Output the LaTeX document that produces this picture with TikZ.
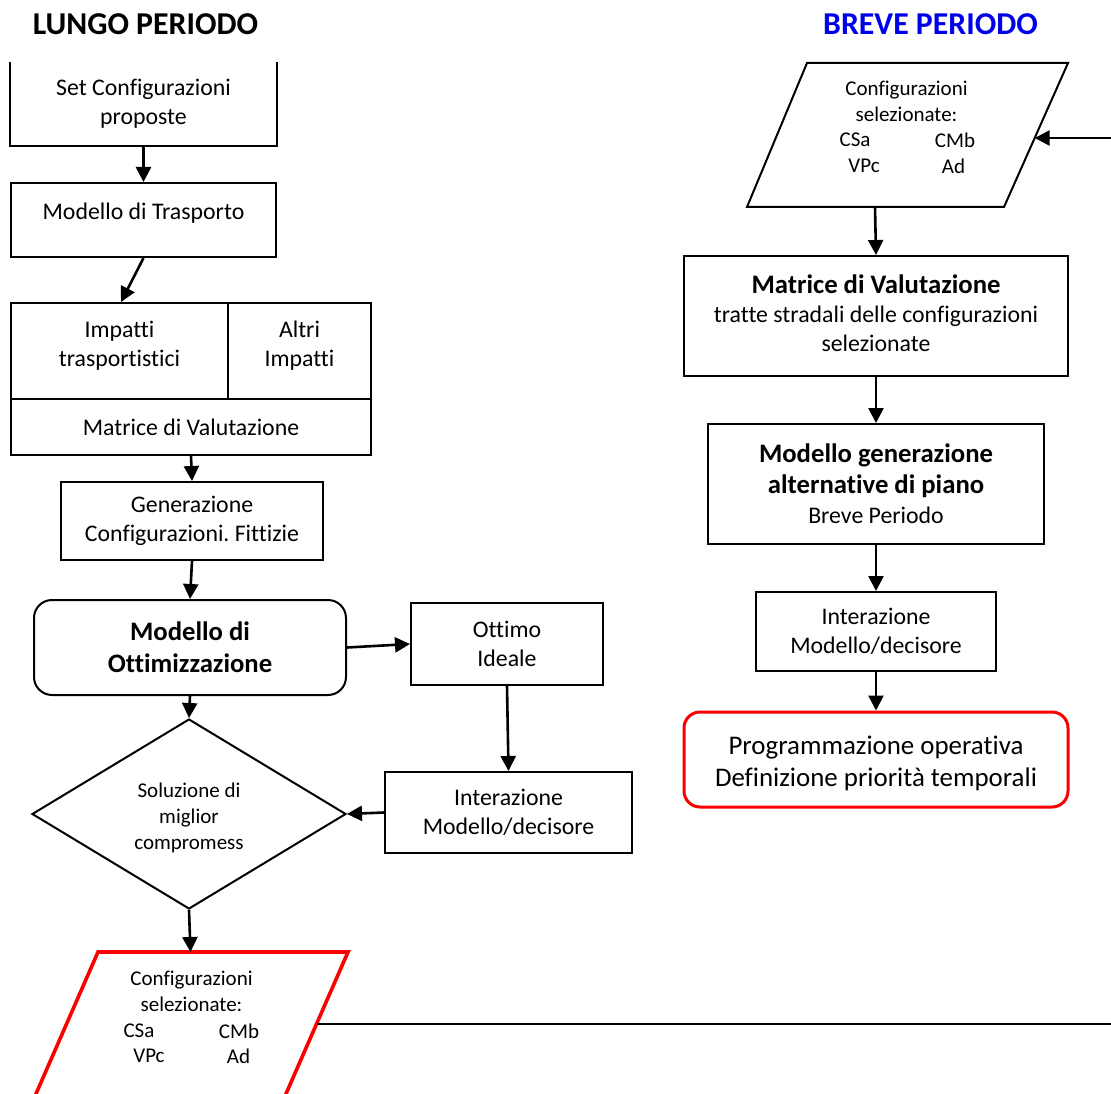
\documentclass[tikz,border=0pt]{standalone}
\usepackage{fontspec}
\setmainfont{Carlito}[Ligatures=CommonOff]
\usetikzlibrary{arrows.meta,shapes.geometric,calc}
\frenchspacing
\newcommand\fReg{\fontsize{23.8}{29}\selectfont}
\newcommand\fSm{\fontsize{21}{25.8}\selectfont}
\newcommand\fBig{\fontsize{26.7}{32}\selectfont\bfseries}
\newcommand\fProg{\fontsize{26.9}{32}\selectfont}
\newcommand\fTit{\fontsize{31.8}{36}\selectfont\bfseries}
\definecolor{tblue}{RGB}{0,0,235}
\definecolor{tred}{RGB}{250,0,0}
\begin{document}
\begin{tikzpicture}[x=1pt,y=-1pt,
  box/.style={draw, line width=2pt, rectangle, inner sep=0pt, align=center, font=\fReg},
  lbl/.style={inner sep=0pt, align=center, font=\fReg},
  slbl/.style={inner sep=0pt, align=center, font=\fSm},
  arr/.style={line width=2.6pt, -{Triangle[length=15pt,width=15pt]}},
  plain/.style={line width=2.6pt}]
\useasboundingbox (0,0) rectangle (1111,1094);
\clip (0,0) rectangle (1111,1094);
\fill[white] (0,0) rectangle (1111,1094);

% titles
\node[font=\fTit] (tl) at (145.5,24) {LUNGO PERIODO};
\node[font=\fTit, text=tblue] (tr) at (930.5,24) {BREVE PERIODO};

% ---------- left column ----------
\node[box, draw=none, minimum width=265pt, minimum height=82pt] (setc) at (143.5,104) {Set Configurazioni\\proposte};
\draw[line width=2pt] (setc.north west) -- (setc.south west) -- (setc.south east) -- (setc.north east);

\node[box, minimum width=265pt, minimum height=74pt] (trasp) at (143.5,220) {};
\node[lbl] (traspT) at (143.5,213) {Modello di Trasporto};

\node[box, minimum width=217pt, minimum height=96pt] (impT) at (119.5,351) {};
\node[lbl] (impTT) at (119.5,346) {Impatti\\trasportistici};
\node[box, minimum width=143pt, minimum height=96pt] (altri) at (299.5,351) {};
\node[lbl] (altriT) at (299.5,346) {Altri\\Impatti};
\node[box, minimum width=360pt, minimum height=56pt] (matL) at (191,427) {Matrice di Valutazione};

\node[box, minimum width=262pt, minimum height=78pt] (gen) at (192,521) {Generazione\\Configurazioni. Fittizie};

\node[box, rounded corners=18pt, minimum width=312pt, minimum height=95pt, font=\fBig] (opt) at (190,647.5) {Modello di\\Ottimizzazione};

\node[box, minimum width=192pt, minimum height=82pt] (ott) at (507,644) {Ottimo\\Ideale};

\node[box, minimum width=247pt, minimum height=81pt] (interL) at (508.5,812.5) {Interazione\\Modello/decisore};

\node[draw, line width=2pt, shape=diamond, shape aspect=1.65, inner sep=0pt,
      minimum width=314pt, minimum height=190pt, font=\fSm] (sol) at (189,814) {};
\node[slbl] (solT) at (189,818) {Soluzione di\\miglior\\compromess};

% red parallelogram (bottom left, cut by the page)
\draw[line width=3.6pt, draw=tred] (98,952) -- (348,952) -- (283.3,1100) -- (33.3,1100) -- cycle;
\coordinate (selLtop) at (190.5,952);
\coordinate (selLe) at (316.5,1024);
\node[slbl] (selLT) at (191.5,991) {Configurazioni\\selezionate:};
\node[slbl] (selL1) at (139,1031) {CSa};
\node[slbl] (selL2) at (239,1031) {CMb};
\node[slbl] (selL3) at (149,1056) {VPc};
\node[slbl] (selL4) at (238.5,1056) {Ad};

% ---------- right column ----------
\draw[line width=2pt] (807,63) -- (1068,63) -- (1004,207) -- (747,207) -- cycle;
\coordinate (selRbot) at (875,207);
\coordinate (selRe) at (1034.7,138);
\node[slbl] (selRT) at (906.5,101.5) {Configurazioni\\selezionate:};
\node[slbl] (selR1) at (855,140) {CSa};
\node[slbl] (selR2) at (955,140) {CMb};
\node[slbl] (selR3) at (864,166) {VPc};
\node[slbl] (selR4) at (953.5,166) {Ad};

\node[box, minimum width=384pt, minimum height=120pt] (matR) at (876,316) {};
\node[lbl] (matRT) at (876,313)
  {{\fBig Matrice di Valutazione}\\tratte stradali delle configurazioni\\selezionate};
\node[box, minimum width=336pt, minimum height=120pt] (modgen) at (876,484) {};
\node[lbl] (modgenT) at (876,484)
  {{\fBig Modello generazione}\\[1.5pt]{\fBig alternative di piano}\\[1.5pt]Breve Periodo};
\node[box, minimum width=240pt, minimum height=79pt] (interR) at (876,631.5) {Interazione\\Modello/decisore};
\node[box, draw=tred, line width=3pt, rounded corners=16pt, minimum width=384pt, minimum height=95pt] (prog) at (876,759.5) {};
\node[inner sep=0pt, align=center, font=\fProg] (progT) at (876,763)
  {Programmazione operativa\\Definizione priorità temporali};

% ---------- connectors ----------
\coordinate (turnx) at (1116,0);
\draw[arr] (setc.south) -- (trasp.north);
\draw[arr] (trasp.south) -- ([xshift=111pt]impT.north west);
\draw[arr] (matL.south) -- (gen.north);
\draw[arr] (gen.south) -- (opt.north);
\draw[arr] (opt.east) -- (ott.west);
\draw[arr] (ott.south) -- (interL.north);
\draw[arr] (interL.west) -- (sol.east);
\draw[arr] (opt.south) -- (sol.north);
\draw[arr] (sol.south) -- (selLtop);
\draw[arr] (selLe) -- (selLe -| turnx) -- (selRe -| turnx) -- (selRe);
\draw[arr] (selRbot) -- (matR.north);
\draw[arr] (matR.south) -- (modgen.north);
\draw[arr] (modgen.south) -- (interR.north);
\draw[arr] (interR.south) -- (prog.north);
\end{tikzpicture}
\end{document}
